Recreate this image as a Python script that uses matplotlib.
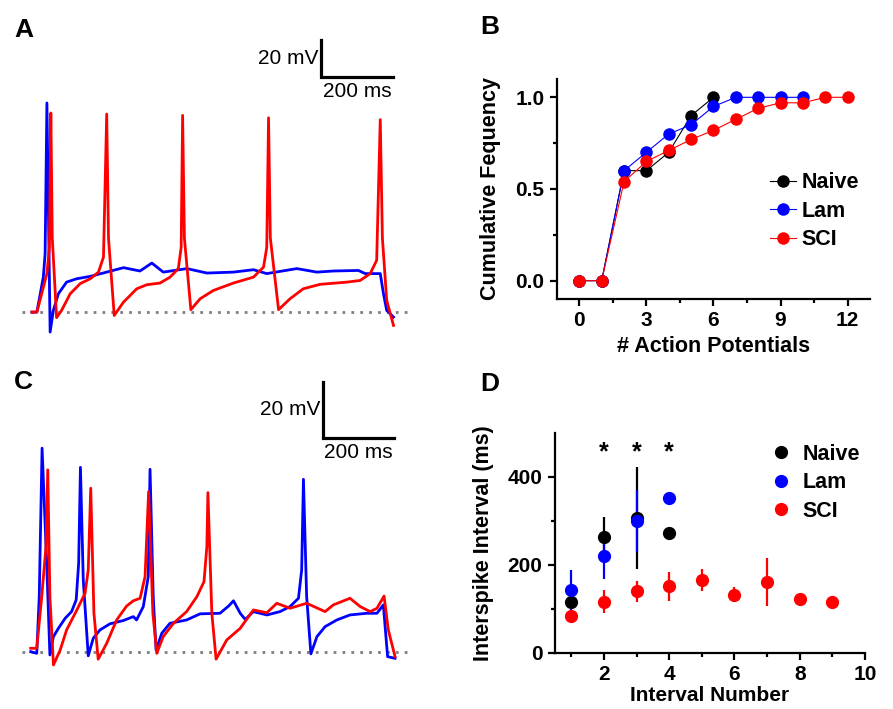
import matplotlib
matplotlib.use("Agg")
import matplotlib.pyplot as plt
from matplotlib.lines import Line2D

plt.rcParams['font.family'] = ['Liberation Sans', 'DejaVu Sans']

# ---- panel A traces (ms, mV relative to rest) ----
a_blue_t = [5, 19, 37, 42, 47, 56, 65, 79, 102, 130, 168, 214, 261, 307, 340, 372, 438, 494,
            568, 624, 661, 745, 801, 847, 917, 936, 978, 987, 996, 1015]
a_blue_v = [0, 0, 18.9, 31.6, 113, -10.8, 0.9, 9.9, 16.2, 18, 19.3, 21.6, 24, 22.2, 26.5, 21.6,
            23.5, 21.1, 21.6, 22.9, 20.8, 23.5, 21.6, 22.2, 22.5, 20.8, 20.8, 9.9, 0.9, -2.7]
a_red_t = [5, 19, 47, 54, 58, 62, 74, 88, 112, 140, 168, 191, 205, 214, 219, 235, 261, 298,
           326, 363, 391, 414, 422, 426, 431, 449, 475, 512, 568, 624, 652, 661, 666, 671,
           694, 726, 763, 810, 885, 922, 950, 968, 978, 984, 996, 1015]
a_red_v = [0, 0, 20.8, 35, 107.6, 40, -3, 0.9, 9.9, 15.4, 18, 21.6, 29.7, 107, 40, -1.8, 5.4,
           12.6, 14.8, 15.7, 18.9, 23.5, 35, 106.3, 40, 1.3, 7.2, 11.7, 15.7, 18.9, 24.3, 35,
           105, 40, 1.3, 7.2, 12.6, 15, 16.2, 17.1, 20.8, 28, 104, 40, 6.3, -7.2]

# ---- panel C traces ----
c_blue_t = [2, 19, 26, 34, 47, 56, 66, 80, 99, 117, 130, 137, 142, 150, 164, 178, 197, 225,
            263, 291, 300, 319, 333, 338, 347, 355, 371, 394, 441, 479, 535, 560, 573, 592,
            606, 629, 667, 704, 732, 756, 765, 770, 779, 791, 808, 831, 864, 901, 948, 977,
            995, 1007, 1028]
c_blue_v = [0, -0.6, 19.8, 73.2, 31.8, -1.2, 5.4, 8.4, 12, 14.4, 18.6, 31.8, 66.3, 25.8, -1.5,
            4.8, 7.8, 10, 11.2, 12.6, 11.4, 16.2, 27, 65.6, 19.8, 0.6, 6.6, 10.2, 11.4, 13.6,
            13.8, 16.5, 18.3, 13.8, 11.6, 14.4, 13.2, 14.4, 16.2, 19.2, 29.4, 62, 19.8, -0.8,
            5.4, 9, 11.4, 13.2, 13.8, 13.8, 16.8, -1.8, -2.4]
c_red_t = [2, 19, 33, 45, 50, 56, 66, 85, 103, 132, 155, 164, 171, 180, 192, 216, 244, 272,
           291, 310, 324, 334, 346, 357, 375, 404, 441, 470, 490, 498, 501, 512, 524, 554,
           592, 629, 667, 695, 732, 779, 831, 854, 901, 930, 958, 977, 997, 1009, 1028]
c_red_v = [1.2, 1.2, 19.8, 37.8, 65.4, 19.8, -4.8, 0.6, 7.8, 15, 21, 29.4, 58.8, 13.8, -2.7,
           3, 11.4, 16.4, 18.3, 19.2, 27, 57.6, 13.8, -0.6, 5.4, 10.2, 14.4, 19.8, 25.2, 37.8,
           57.2, 13.8, -2.7, 4.2, 8.4, 15, 14, 17.4, 15.6, 17.4, 14.4, 16.8, 19.2, 16.2, 14.4,
           15.6, 20, 7.8, -1.8]

# ---- panel B: cumulative frequency ----
b_naive_x = [0, 1, 2, 3, 4, 5, 6]
b_naive_y = [0, 0, 0.6, 0.6, 0.7, 0.9, 1.0]
b_lam_x = [0, 1, 2, 3, 4, 5, 6, 7, 8, 9, 10]
b_lam_y = [0, 0, 0.6, 0.7, 0.8, 0.85, 0.95, 1.0, 1.0, 1.0, 1.0]
b_sci_x = [0, 1, 2, 3, 4, 5, 6, 7, 8, 9, 10, 11, 12]
b_sci_y = [0, 0, 0.54, 0.65, 0.71, 0.77, 0.82, 0.88, 0.94, 0.97, 0.97, 1.0, 1.0]

# ---- panel D: interspike interval ----
d_naive_x = [1, 2, 3, 4]
d_naive_y = [117, 263, 306, 273]
d_naive_e = [10, 47, 116, 5]
d_lam_x = [1, 2, 3, 4]
d_lam_y = [143, 220, 300, 352]
d_lam_e = [46, 52, 70, 15]
d_sci_x = [1, 2, 3, 4, 5, 6, 7, 8, 9]
d_sci_y = [84, 117, 140, 152, 166, 132, 162, 122, 117]
d_sci_e = [8, 26, 24, 33, 25, 17, 55, 5, 5]
star_x = [2, 3, 4]

BLUE = '#0000ff'
RED = '#ff0000'

fig = plt.figure(figsize=(8.93, 7.09), dpi=100)


def trace_panel(rect, xlim, ylim, traces, bar, lab_y, ms_off):
    ax = fig.add_axes(rect)
    ax.set_xlim(*xlim)
    ax.set_ylim(*ylim)
    ax.axis('off')
    ax.plot([-23, 1066], [0, 0], color='#808080', lw=2, ls=(0, (1, 2.2)), zorder=1)
    for t, v, c in traces:
        ax.plot(t, v, color=c, lw=2, zorder=2, solid_joinstyle='round')
    t0, v0 = bar
    ax.plot([t0, t0, t0 + 200], [v0 + 20, v0, v0], color='black', lw=2.3,
            solid_joinstyle='miter', clip_on=False)
    ax.text(t0 - 8, lab_y, '20 mV', ha='right', va='center', fontsize=15)
    ax.text(t0 + 100, v0 - ms_off, '200 ms', ha='center', va='top', fontsize=15)
    return ax


axA = trace_panel([0, 0.5204, 0.4591, 0.4513], (-84, 1061), (-15.1, 157.8),
                  [(a_blue_t, a_blue_v, BLUE), (a_red_t, a_red_v, RED)],
                  (813, 127), 137, 2.5)
axC = trace_panel([0, 0.0409, 0.4591, 0.4513], (-84.5, 1070), (-10.2, 104.9),
                  [(c_blue_t, c_blue_v, BLUE), (c_red_t, c_red_v, RED)],
                  (825, 76.9), 87, 1.7)


def style_axes(ax):
    for s in ['top', 'right']:
        ax.spines[s].set_visible(False)
    for s in ['left', 'bottom']:
        ax.spines[s].set_linewidth(1.6)
    ax.tick_params(which='major', direction='out', length=5, width=1.6, labelsize=15, pad=4)
    ax.tick_params(which='minor', direction='out', length=3, width=1.6)
    for lbl in ax.get_xticklabels() + ax.get_yticklabels():
        lbl.set_fontweight('bold')


# panel B
axB = fig.add_axes([0.6237, 0.5783, 0.3505, 0.3103])
for x, y, c in [(b_naive_x, b_naive_y, 'black'), (b_lam_x, b_lam_y, BLUE), (b_sci_x, b_sci_y, RED)]:
    axB.plot(x, y, color=c, lw=0.8, marker='o', ms=8, mec=c, mfc=c, clip_on=False)
axB.set_xlim(-1, 13)
axB.set_ylim(-0.1, 1.1)
axB.set_xticks([0, 3, 6, 9, 12])
axB.set_xticks([1.5, 4.5, 7.5, 10.5], minor=True)
axB.set_yticks([0, 0.5, 1.0])
axB.set_yticks([0.25, 0.75], minor=True)
axB.set_yticklabels(['0.0', '0.5', '1.0'])
style_axes(axB)
axB.set_xlabel('# Action Potentials', fontsize=15.5, fontweight='bold', labelpad=4)
axB.set_ylabel('Cumulative Fequency', fontsize=15.5, fontweight='bold', labelpad=10)
hB = [Line2D([], [], color=c, lw=0.8, marker='o', ms=8) for c in ['black', BLUE, RED]]
axB.legend(hB, ['Naive', 'Lam', 'SCI'], loc='upper left', bbox_to_anchor=(0.62, 0.665),
           frameon=False, handlelength=1.2, handletextpad=0.25, labelspacing=0.35,
           prop={'weight': 'bold', 'size': 15.5})

# panel D
axD = fig.add_axes([0.6215, 0.0790, 0.3471, 0.3103])
for x, y, e, c in [(d_naive_x, d_naive_y, d_naive_e, 'black'), (d_lam_x, d_lam_y, d_lam_e, BLUE),
                   (d_sci_x, d_sci_y, d_sci_e, RED)]:
    axD.errorbar(x, y, yerr=e, fmt='o', color=c, ms=8.5, elinewidth=1.6, capsize=0)
for sx in star_x:
    axD.text(sx, 455, '*', ha='center', va='center', fontsize=18, fontweight='bold')
axD.set_xlim(0.5, 10)
axD.set_ylim(0, 500)
axD.set_xticks([2, 4, 6, 8, 10])
axD.set_xticks([1, 3, 5, 7, 9], minor=True)
axD.set_yticks([0, 200, 400])
axD.set_yticks([100, 300], minor=True)
style_axes(axD)
axD.set_xlabel('Interval Number', fontsize=15, fontweight='bold', labelpad=1)
axD.set_ylabel('Interspike Interval (ms)', fontsize=15.5, fontweight='bold', labelpad=10)
hD = [Line2D([], [], color=c, lw=0, marker='o', ms=8.5) for c in ['black', BLUE, RED]]
axD.legend(hD, ['Naive', 'Lam', 'SCI'], loc='upper left', bbox_to_anchor=(0.632, 1.04),
           frameon=False, handlelength=1.0, handletextpad=0.5, labelspacing=0.35,
           prop={'weight': 'bold', 'size': 15.5})

# panel letters
for x, y, s in [(14, 30, 'A'), (480, 27, 'B'), (14, 382, 'C'), (480, 384, 'D')]:
    fig.text(x / 893, 1 - y / 709, s, fontsize=19, fontweight='bold', ha='left', va='center')

fig.savefig('out.png', dpi=100)
